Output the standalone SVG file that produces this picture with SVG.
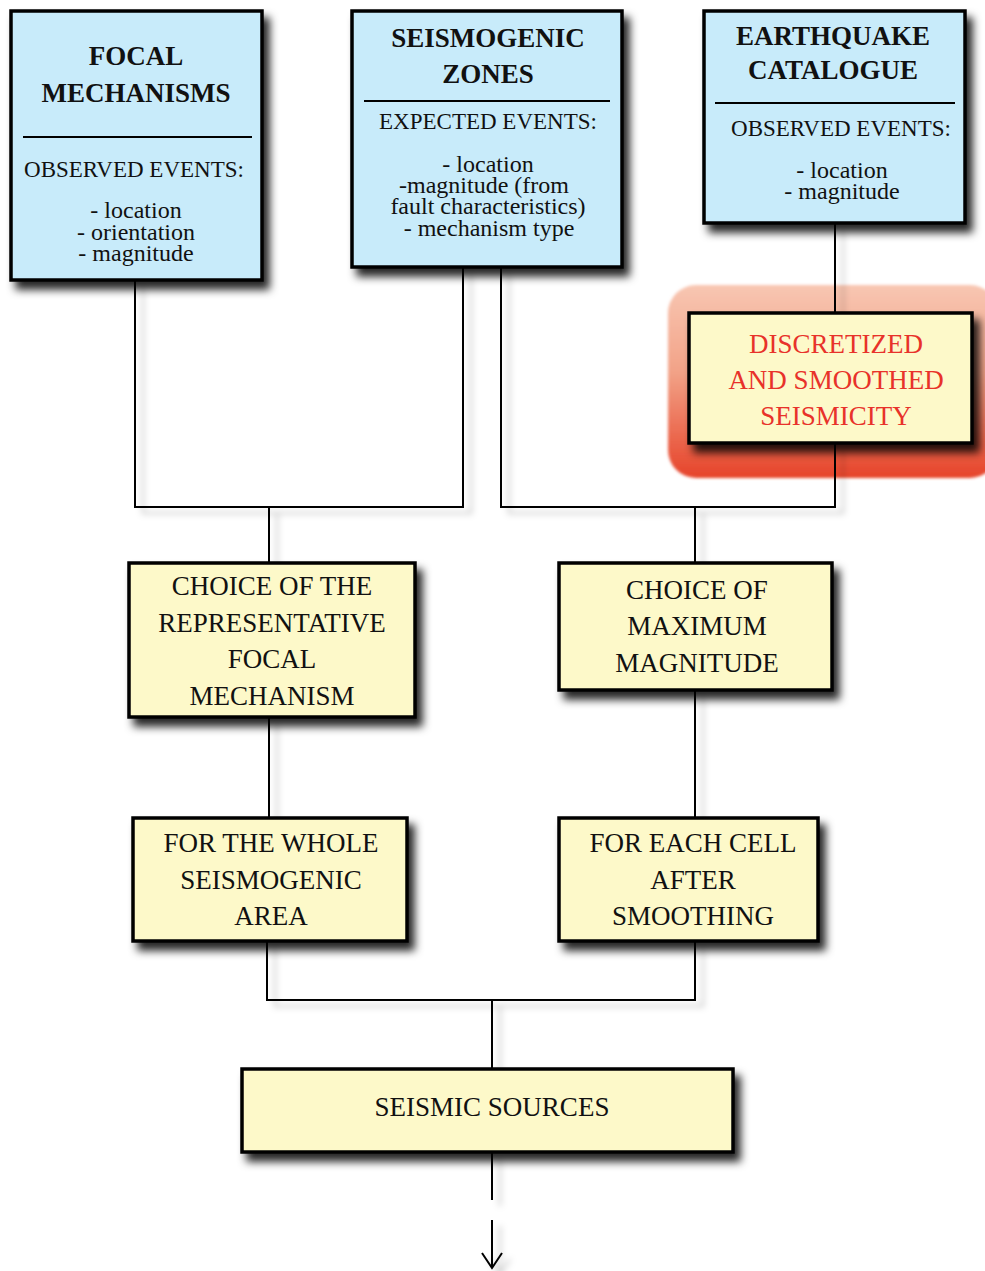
<svg xmlns="http://www.w3.org/2000/svg" width="985" height="1271" viewBox="0 0 985 1271">
<style>
.box{stroke:#000;stroke-width:3.5}
.blue{fill:#c8ebfa}
.yel{fill:#fdf9c9}
.t{font-family:"Liberation Serif","Times New Roman",serif;fill:#111;text-anchor:middle}
.h{font-weight:bold;font-size:27px}
.s{font-size:23px}
.l{font-size:24px}
.y{font-size:27px}
.r{fill:#e8322a;font-size:27px}
.ln{fill:none;stroke:#000;stroke-width:2}
.div{stroke:#000;stroke-width:2}
</style>
<defs>
<filter id="sh" x="-20%" y="-20%" width="150%" height="160%">
<feDropShadow dx="6" dy="8" stdDeviation="4" flood-color="#000" flood-opacity="0.85"/>
</filter>
<filter id="lsh" x="-50%" y="-20%" width="200%" height="150%">
<feDropShadow dx="8" dy="6" stdDeviation="3" flood-color="#000" flood-opacity="0.25"/>
</filter>
<filter id="glowblur" x="-10%" y="-10%" width="120%" height="120%">
<feGaussianBlur stdDeviation="1.5"/>
</filter>
<linearGradient id="red" x1="0" y1="0" x2="0" y2="1">
<stop offset="0" stop-color="#f8c6b2"/>
<stop offset="0.45" stop-color="#f2a287"/>
<stop offset="1" stop-color="#e6432a"/>
</linearGradient>
</defs>

<rect id="glow" x="668" y="285" width="330" height="193" rx="28" fill="url(#red)" filter="url(#glowblur)"/>

<g id="connectors" filter="url(#lsh)">
<path class="ln" d="M135 280 V507 H463 V267"/>
<path class="ln" d="M501 267 V507 H835 V443"/>
<path class="ln" d="M835 223 V313"/>
<path class="ln" d="M269 507 V563"/>
<path class="ln" d="M695 507 V563"/>
<path class="ln" d="M269 717 V818"/>
<path class="ln" d="M695 690 V818"/>
<path class="ln" d="M267 941 V1000 H695 V941"/>
<path class="ln" d="M492 1000 V1069"/>
<path class="ln" d="M492 1152 V1200"/>
<path class="ln" d="M492 1220 V1268"/>
<path class="ln" d="M482 1253 L492 1268 L502 1253"/>
</g>

<g id="focal">
<rect class="box blue" x="11" y="11" width="251" height="269" filter="url(#sh)"/>
<text class="t h" x="136" y="65">FOCAL</text>
<text class="t h" x="136" y="102">MECHANISMS</text>
<line class="div" x1="23" y1="137" x2="252" y2="137"/>
<text class="t s" x="134" y="177">OBSERVED EVENTS:</text>
<text class="t l" x="136" y="218">- location</text>
<text class="t l" x="136" y="240">- orientation</text>
<text class="t l" x="136" y="261">- magnitude</text>
</g>

<g id="zones">
<rect class="box blue" x="352" y="11" width="270" height="256" filter="url(#sh)"/>
<text class="t h" x="488" y="47">SEISMOGENIC</text>
<text class="t h" x="488" y="83">ZONES</text>
<line class="div" x1="364" y1="101" x2="610" y2="101"/>
<text class="t s" x="488" y="129">EXPECTED EVENTS:</text>
<text class="t l" x="488" y="172">- location</text>
<text class="t l" x="484" y="193">-magnitude (from</text>
<text class="t l" x="488" y="214">fault characteristics)</text>
<text class="t l" x="489" y="236">- mechanism type</text>
</g>

<g id="catalogue">
<rect class="box blue" x="704" y="11" width="261" height="212" filter="url(#sh)"/>
<text class="t h" x="833" y="45">EARTHQUAKE</text>
<text class="t h" x="833" y="79">CATALOGUE</text>
<line class="div" x1="715" y1="103" x2="955" y2="103"/>
<text class="t s" x="841" y="136">OBSERVED EVENTS:</text>
<text class="t l" x="842" y="178">- location</text>
<text class="t l" x="842" y="199">- magnitude</text>
</g>

<g id="discretized">
<rect class="box yel" x="689" y="313" width="283" height="130" filter="url(#sh)"/>
<text class="t r" x="836" y="353">DISCRETIZED</text>
<text class="t r" x="836" y="389">AND SMOOTHED</text>
<text class="t r" x="836" y="425">SEISMICITY</text>
</g>

<g id="choice-focal">
<rect class="box yel" x="129" y="563" width="286" height="154" filter="url(#sh)"/>
<text class="t y" x="272" y="595">CHOICE OF THE</text>
<text class="t y" x="272" y="632">REPRESENTATIVE</text>
<text class="t y" x="272" y="668">FOCAL</text>
<text class="t y" x="272" y="705">MECHANISM</text>
</g>

<g id="choice-max">
<rect class="box yel" x="559" y="563" width="273" height="127" filter="url(#sh)"/>
<text class="t y" x="697" y="599">CHOICE OF</text>
<text class="t y" x="697" y="635">MAXIMUM</text>
<text class="t y" x="697" y="672">MAGNITUDE</text>
</g>

<g id="whole-area">
<rect class="box yel" x="133" y="818" width="274" height="123" filter="url(#sh)"/>
<text class="t y" x="271" y="852">FOR THE WHOLE</text>
<text class="t y" x="271" y="889">SEISMOGENIC</text>
<text class="t y" x="271" y="925">AREA</text>
</g>

<g id="each-cell">
<rect class="box yel" x="559" y="818" width="259" height="123" filter="url(#sh)"/>
<text class="t y" x="693" y="852">FOR EACH CELL</text>
<text class="t y" x="693" y="889">AFTER</text>
<text class="t y" x="693" y="925">SMOOTHING</text>
</g>

<g id="sources">
<rect class="box yel" x="242" y="1069" width="491" height="83" filter="url(#sh)"/>
<text class="t y" x="492" y="1116">SEISMIC SOURCES</text>
</g>
</svg>
